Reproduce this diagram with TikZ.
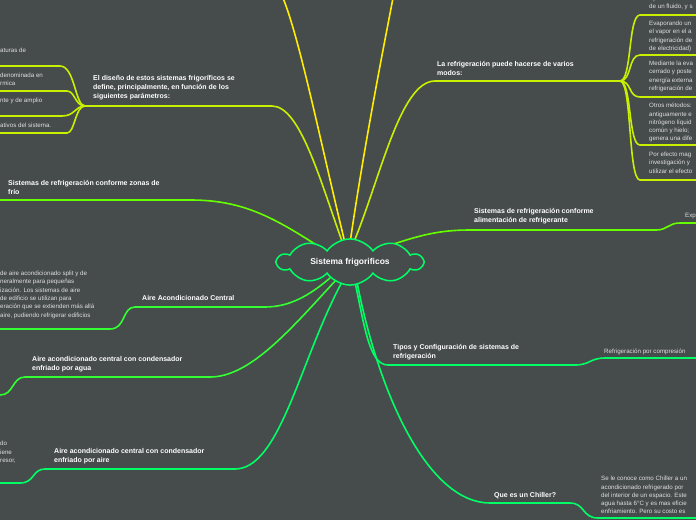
\documentclass[tikz,border=0pt]{standalone}
\usepackage{fontspec}
\setmainfont{Liberation Sans}
\usetikzlibrary{shapes.symbols}
\definecolor{bg}{HTML}{464B4B}
\definecolor{cyel}{HTML}{FFEE00}
\definecolor{clime}{HTML}{C8F000}
\definecolor{cg1}{HTML}{66FF00}
\definecolor{cg2}{HTML}{33FF33}
\definecolor{cg3}{HTML}{00FF66}
\tikzset{
 hdr/.style={anchor=north west,text=white,font=\bfseries\fontsize{7}{9.2}\selectfont,align=left,inner sep=0},
 sm/.style={anchor=north west,text=white!88!black,font=\fontsize{6.2}{8.3}\selectfont,align=left,inner sep=0},
 br/.style={line width=1.6pt,line cap=round},
}
\begin{document}
\begin{tikzpicture}[x=1pt,y=-1pt]
\fill[bg] (0,0) rectangle (696,520);
\useasboundingbox (0,0) rectangle (696,520);
\clip (0,0) rectangle (696,520);
\coordinate (c1) at (345,243);
\coordinate (c2) at (350,243);
\coordinate (cl) at (343,244);
\coordinate (cr) at (353,244);
\coordinate (czf) at (318,246);
\coordinate (cal) at (388,246);
\coordinate (cac) at (330,278);
\coordinate (cag) at (336,280);
\coordinate (cai) at (342,282);
\coordinate (cti) at (355,282);
\coordinate (cch) at (357,282);
% yellow
\coordinate (y1) at (283,-2);
\coordinate (y2) at (393,-2);
\draw[br,cyel] (c1) .. controls (320,140) and (300,40) .. (y1);
\draw[br,cyel] (c2) .. controls (365,140) and (385,40) .. (y2);
% left lime
\coordinate (hl) at (85,106);
\draw[br,clime] (cl) .. controls (320,180) and (300,106) .. (272,106) -- (hl);
\node[hdr] (t1) at (93,75) {El diseño de estos sistemas frigoríficos se\\define, principalmente, en función de los\\siguientes parámetros:};
\foreach \yy/\xe/\n in {66/60/a,91/67/b,116/62/c,133/67/d}{
 \coordinate (l\n) at (\xe,\yy);
 \coordinate (le\n) at (-2,\yy);
 \draw[br,clime] (hl) .. controls (75,106) and (75,\yy) .. (l\n) -- (le\n);
}
\node[sm] (s1) at (0,48) {aturas de};
\node[sm] (s2) at (0,73) {denominada en\\rmica};
\node[sm] (s3) at (0,98) {nte y de amplio};
\node[sm] (s4) at (0,123) {ativos del sistema.};
% right lime
\coordinate (hr) at (620,81);
\draw[br,clime] (cr) .. controls (380,180) and (400,81) .. (435,81) -- (hr);
\node[hdr] (t2) at (437,61) {La refrigeración puede hacerse de varios\\modos:};
\foreach \yy/\n in {15/a,55/b,97/c,145/d,180/e}{
 \coordinate (r\n) at (640,\yy);
 \coordinate (re\n) at (698,\yy);
 \draw[br,clime] (hr) .. controls (632,81) and (628,\yy) .. (r\n) -- (re\n);
}
\node[sm] (r1) at (649,-4.5) {Aprovechando\\de un fluido, y s};
\node[sm] (r2) at (649,21) {Evaporando un\\el vapor en el a\\refrigeración de\\de electricidad)};
\node[sm] (r3) at (649,61) {Mediante la eva\\cerrado y poste\\energía externa\\refrigeración de};
\node[sm] (r4) at (649,103) {Otros métodos:\\antiguamente e\\nitrógeno líquid\\común y hielo;\\genera una dife};
\node[sm] (r5) at (649,152) {Por efecto mag\\investigación y\\utilizar el efecto};
% zonas de frio
\coordinate (zf) at (-2,200);
\draw[br,cg1] (czf) .. controls (270,215) and (240,200) .. (190,200) -- (zf);
\node[hdr] (t3) at (8,180) {Sistemas de refrigeración conforme zonas de\\frío};
% alimentacion
\coordinate (al) at (698,223);
\draw[br,cg1] (cal) .. controls (420,235) and (440,230) .. (470,230) -- (656,230) .. controls (668,230) and (668,223) .. (680,223) -- (al);
\node[hdr] (t4) at (474,208) {Sistemas de refrigeración conforme\\alimentación de refrigerante};
\node[sm] (e1) at (685,213) {Exp};
% aire acondicionado central
\coordinate (ac) at (-2,329);
\draw[br,cg2] (cac) .. controls (310,295) and (290,307) .. (265,307) -- (135,307) .. controls (122,307) and (126,329) .. (110,329) -- (ac);
\node[hdr] (t5) at (142,295) {Aire Acondicionado Central};
\node[sm] (a1) at (0,271) {de aire acondicionado split y de\\neralmente para pequeñas\\ización. Los sistemas de aire\\de edificio se utilizan para\\eración que se extienden más allá\\ aire, pudiendo refrigerar edificios};
% agua
\coordinate (ag) at (-2,395);
\draw[br,cg2] (cag) .. controls (290,330) and (250,377) .. (210,377) -- (25,377) .. controls (12,377) and (14,395) .. (0,395) -- (ag);
\node[hdr] (t6) at (32,356) {Aire acondicionado central con condensador\\enfriado por agua};
% aire
\coordinate (ai) at (-2,483);
\draw[br,cg3] (cai) .. controls (300,360) and (280,469) .. (235,469) -- (45,469) .. controls (32,469) and (35,483) .. (20,483) -- (ai);
\node[hdr] (t7) at (54,448) {Aire acondicionado central con condensador\\enfriado por aire};
\node[sm] (a2) at (0,441) {do\\iene\\resor,};
% tipos
\coordinate (ti) at (698,358);
\draw[br,cg3] (cti) .. controls (365,330) and (370,365) .. (388,365) -- (575,365) .. controls (590,365) and (590,358) .. (605,358) -- (ti);
\node[hdr] (t8) at (393,344) {Tipos y Configuración de sistemas de\\refrigeración};
\node[sm] (p1) at (604,349) {Refrigeración por compresión};
% chiller
\coordinate (ch) at (698,518);
\draw[br,cg3] (cch) .. controls (380,400) and (430,503) .. (490,503) -- (570,503) .. controls (585,503) and (582,518) .. (598,518) -- (ch);
\node[hdr] (t9) at (494,492) {Que es un Chiller?};
\node[sm] (q1) at (601,476) {Se le conoce como Chiller a un\\acondicionado refrigerado por\\del interior de un espacio. Este\\agua hasta 6°C y es mas eficie\\enfriamiento. Pero su costo es};
% cloud
\node[cloud,cloud puffs=10,cloud puff arc=110,aspect=3.8,draw=cg3,line width=1.5pt,fill=bg,minimum width=145pt,minimum height=36pt,inner sep=0,text=white,font=\bfseries\fontsize{8.5}{10}\selectfont] (root) at (350,262) {Sistema frigorificos};
\end{tikzpicture}
\end{document}
